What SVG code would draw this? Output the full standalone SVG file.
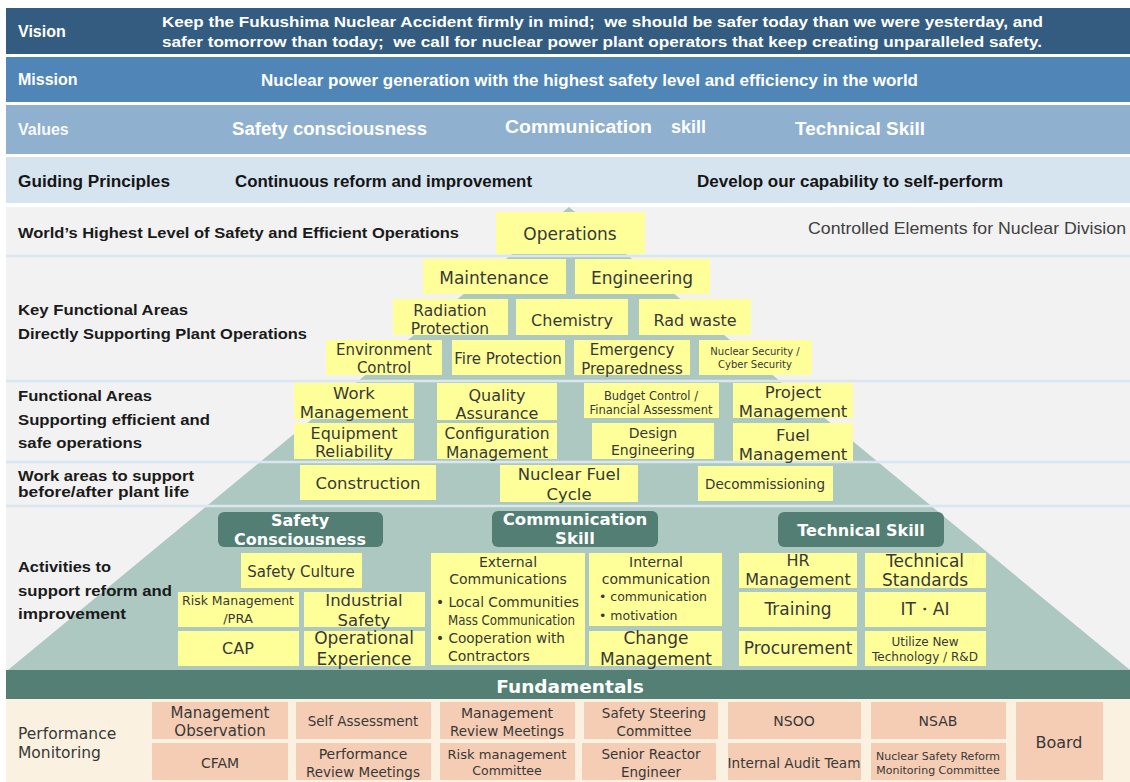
<svg xmlns="http://www.w3.org/2000/svg" width="1130" height="782" viewBox="0 0 1130 782">
<style>
.hw{font-family:"Liberation Sans",Arial,sans-serif;font-weight:bold;fill:#ffffff}
.hb{font-family:"Liberation Sans",Arial,sans-serif;font-weight:bold;fill:#151515}
.lbl{font-family:"Liberation Sans",Arial,sans-serif;font-weight:bold;fill:#1a1a1a;font-size:15px}
.y{fill:#ffff99}
.t{font-family:"DejaVu Sans",sans-serif;fill:#383838;text-anchor:middle}
.tl{font-family:"DejaVu Sans",sans-serif;fill:#383838}
.th{fill:#527e73}
.tw{font-family:"DejaVu Sans",sans-serif;font-weight:bold;fill:#ffffff;text-anchor:middle}
.s{fill:#f5cdb4}
.sep{stroke:#dbe6ef;stroke-width:2.5}
</style>
<rect x="0" y="0" width="1130" height="782" fill="#ffffff"/>
<!-- header rows -->
<g id="vision">
<rect x="6" y="8" width="1124" height="46" fill="#335c80"/>
<text class="hw" x="18" y="37" font-size="16">Vision</text>
<text class="hw" x="162" y="27" font-size="15.5" textLength="881" lengthAdjust="spacingAndGlyphs" xml:space="preserve">Keep the Fukushima Nuclear Accident firmly in mind;  we should be safer today than we were yesterday, and</text>
<text class="hw" x="162" y="47" font-size="15.5" textLength="880" lengthAdjust="spacingAndGlyphs" xml:space="preserve">safer tomorrow than today;  we call for nuclear power plant operators that keep creating unparalleled safety.</text>
</g>
<g id="mission">
<rect x="6" y="57" width="1124" height="45" fill="#4f86b7"/>
<text class="hw" x="18" y="85" font-size="16">Mission</text>
<text class="hw" x="261" y="86" font-size="16" textLength="657" lengthAdjust="spacingAndGlyphs">Nuclear power generation with the highest safety level and efficiency in the world</text>
</g>
<g id="values">
<rect x="6" y="105" width="1124" height="49" fill="#8fb1cf"/>
<text class="hw" x="18" y="135" font-size="16" fill-opacity="0.95">Values</text>
<text class="hw" x="232" y="135" font-size="17.5" textLength="195" lengthAdjust="spacingAndGlyphs">Safety consciousness</text>
<text class="hw" x="505" y="133" font-size="17.5" textLength="147" lengthAdjust="spacingAndGlyphs">Communication</text>
<text class="hw" x="671" y="133" font-size="17.5" textLength="35" lengthAdjust="spacingAndGlyphs">skill</text>
<text class="hw" x="795" y="135" font-size="17.5" textLength="130" lengthAdjust="spacingAndGlyphs">Technical Skill</text>
</g>
<g id="guiding">
<rect x="6" y="157" width="1124" height="46" fill="#d6e4ef"/>
<text class="hb" x="18" y="187" font-size="16" textLength="152" lengthAdjust="spacingAndGlyphs">Guiding Principles</text>
<text class="hb" x="235" y="187" font-size="16" textLength="297" lengthAdjust="spacingAndGlyphs">Continuous reform and improvement</text>
<text class="hb" x="697" y="187" font-size="16" textLength="306" lengthAdjust="spacingAndGlyphs">Develop our capability to self-perform</text>
</g>
<!-- main area -->
<rect x="6" y="207" width="1124" height="463" fill="#f2f2f2"/>
<polygon points="569,207 8,670 1130,670" fill="#adc8c1"/>
<g id="separators">
<line class="sep" x1="6" y1="256" x2="1130" y2="256"/>
<line class="sep" x1="6" y1="381" x2="1130" y2="381"/>
<line class="sep" x1="6" y1="462" x2="1130" y2="462"/>
<line class="sep" x1="6" y1="506" x2="1130" y2="506"/>
</g>
<g id="left-labels">
<text class="lbl" x="18" y="238" textLength="441" lengthAdjust="spacingAndGlyphs">World’s Highest Level of Safety and Efficient Operations</text>
<text class="lbl" x="18" y="315" textLength="170" lengthAdjust="spacingAndGlyphs">Key Functional Areas</text>
<text class="lbl" x="18" y="339" textLength="289" lengthAdjust="spacingAndGlyphs">Directly Supporting Plant Operations</text>
<text class="lbl" x="18" y="401" textLength="134" lengthAdjust="spacingAndGlyphs">Functional Areas</text>
<text class="lbl" x="18" y="425" textLength="192" lengthAdjust="spacingAndGlyphs">Supporting efficient and</text>
<text class="lbl" x="18" y="448" textLength="124" lengthAdjust="spacingAndGlyphs">safe operations</text>
<text class="lbl" x="18" y="481" textLength="176" lengthAdjust="spacingAndGlyphs">Work areas to support</text>
<text class="lbl" x="18" y="497" textLength="171" lengthAdjust="spacingAndGlyphs">before/after plant life</text>
<text class="lbl" x="18" y="572" textLength="93" lengthAdjust="spacingAndGlyphs">Activities to</text>
<text class="lbl" x="18" y="596" textLength="154" lengthAdjust="spacingAndGlyphs">support reform and</text>
<text class="lbl" x="18" y="619" textLength="108" lengthAdjust="spacingAndGlyphs">improvement</text>
</g>
<text id="controlled-title" x="808" y="234" font-family="'Liberation Sans',Arial,sans-serif" font-size="17" fill="#404040" textLength="318" lengthAdjust="spacingAndGlyphs">Controlled Elements for Nuclear Division</text>
<!-- pyramid boxes -->
<g id="operations"><rect class="y" x="496" y="212" width="149" height="42"/><text class="t" x="570" y="240" font-size="17">Operations</text></g>
<g id="maintenance"><rect class="y" x="423" y="259" width="143" height="35"/><text class="t" x="494" y="284" font-size="17">Maintenance</text></g>
<g id="engineering"><rect class="y" x="575" y="259" width="135" height="35"/><text class="t" x="642" y="284" font-size="17">Engineering</text></g>
<g id="radiation-protection"><rect class="y" x="393" y="299" width="115" height="36"/><text class="t" x="450" y="316" font-size="15.5">Radiation</text><text class="t" x="450" y="334" font-size="15.5">Protection</text></g>
<g id="chemistry"><rect class="y" x="516" y="299" width="112" height="36"/><text class="t" x="572" y="326" font-size="16">Chemistry</text></g>
<g id="rad-waste"><rect class="y" x="639" y="299" width="112" height="36"/><text class="t" x="695" y="326" font-size="16">Rad waste</text></g>
<g id="environment-control"><rect class="y" x="326" y="340" width="116" height="35"/><text class="t" x="384" y="355" font-size="15">Environment</text><text class="t" x="384" y="373" font-size="15">Control</text></g>
<g id="fire-protection"><rect class="y" x="452" y="340" width="113" height="35"/><text class="t" x="508" y="364" font-size="15">Fire Protection</text></g>
<g id="emergency-preparedness"><rect class="y" x="574" y="340" width="116" height="35"/><text class="t" x="632" y="355" font-size="15">Emergency</text><text class="t" x="632" y="374" font-size="15">Preparedness</text></g>
<g id="nuclear-security"><rect class="y" x="699" y="340" width="113" height="35"/><text class="t" x="755" y="355" font-size="10">Nuclear Security /</text><text class="t" x="755" y="368" font-size="10">Cyber Security</text></g>
<g id="work-management"><rect class="y" x="294" y="383" width="120" height="36"/><text class="t" x="354" y="399" font-size="16.5">Work</text><text class="t" x="354" y="418" font-size="16.5">Management</text></g>
<g id="quality-assurance"><rect class="y" x="437" y="383" width="120" height="37"/><text class="t" x="497" y="401" font-size="16">Quality</text><text class="t" x="497" y="419" font-size="16">Assurance</text></g>
<g id="budget-control"><rect class="y" x="584" y="383" width="135" height="35"/><text class="t" x="651" y="400" font-size="11.5">Budget Control /</text><text class="t" x="651" y="414" font-size="11.5">Financial Assessment</text></g>
<g id="project-management"><rect class="y" x="733" y="383" width="120" height="35"/><text class="t" x="793" y="398" font-size="16.5">Project</text><text class="t" x="793" y="417" font-size="16.5">Management</text></g>
<g id="equipment-reliability"><rect class="y" x="294" y="423" width="120" height="36"/><text class="t" x="354" y="439" font-size="16">Equipment</text><text class="t" x="354" y="457" font-size="16">Reliability</text></g>
<g id="configuration-management"><rect class="y" x="437" y="423" width="120" height="36"/><text class="t" x="497" y="438.5" font-size="15.5">Configuration</text><text class="t" x="497" y="457.5" font-size="15.5">Management</text></g>
<g id="design-engineering"><rect class="y" x="592" y="423" width="122" height="36"/><text class="t" x="653" y="438" font-size="14">Design</text><text class="t" x="653" y="455" font-size="14">Engineering</text></g>
<g id="fuel-management"><rect class="y" x="733" y="423" width="120" height="38"/><text class="t" x="793" y="441" font-size="16.5">Fuel</text><text class="t" x="793" y="460" font-size="16.5">Management</text></g>
<g id="construction"><rect class="y" x="300" y="465" width="136" height="35"/><text class="t" x="368" y="489" font-size="16.5">Construction</text></g>
<g id="nuclear-fuel-cycle"><rect class="y" x="500" y="465" width="138" height="37"/><text class="t" x="569" y="480" font-size="16.5">Nuclear Fuel</text><text class="t" x="569" y="500" font-size="16.5">Cycle</text></g>
<g id="decommissioning"><rect class="y" x="698" y="466" width="135" height="35"/><text class="t" x="765" y="489" font-size="14.5" textLength="120" lengthAdjust="spacingAndGlyphs">Decommissioning</text></g>
<!-- activities -->
<g id="safety-consciousness"><rect class="th" x="218" y="512" width="165" height="35" rx="6"/><text class="tw" x="300" y="526" font-size="16">Safety</text><text class="tw" x="300" y="545" font-size="16">Consciousness</text></g>
<g id="communication-skill"><rect class="th" x="492" y="511" width="166" height="36" rx="6"/><text class="tw" x="575" y="525" font-size="16.5">Communication</text><text class="tw" x="575" y="544" font-size="16.5">Skill</text></g>
<g id="technical-skill"><rect class="th" x="778" y="512" width="166" height="35" rx="6"/><text class="tw" x="861" y="536" font-size="16">Technical Skill</text></g>
<g id="safety-culture"><rect class="y" x="241" y="553" width="121" height="35"/><text class="t" x="301" y="577" font-size="15">Safety Culture</text></g>
<g id="risk-management"><rect class="y" x="178" y="592" width="121" height="35"/><text class="t" x="238" y="604.5" font-size="12.5" textLength="112" lengthAdjust="spacingAndGlyphs">Risk Management</text><text class="t" x="238" y="622.5" font-size="13">/PRA</text></g>
<g id="industrial-safety"><rect class="y" x="304" y="592" width="121" height="35"/><text class="t" x="364" y="606" font-size="16.5">Industrial</text><text class="t" x="364" y="626" font-size="16.5">Safety</text></g>
<g id="cap"><rect class="y" x="178" y="631" width="121" height="35"/><text class="t" x="238" y="654" font-size="16">CAP</text></g>
<g id="operational-experience"><rect class="y" x="304" y="631" width="121" height="35"/><text class="t" x="364" y="644" font-size="17">Operational</text><text class="t" x="364" y="665" font-size="17">Experience</text></g>
<g id="external-communications"><rect class="y" x="431" y="553" width="154" height="112"/>
<text class="t" x="508" y="567" font-size="14">External</text>
<text class="t" x="508" y="584" font-size="14">Communications</text>
<text class="tl" x="436" y="607" font-size="14" textLength="143" lengthAdjust="spacingAndGlyphs">• Local Communities</text>
<text class="tl" x="448" y="625" font-size="13.5" textLength="127" lengthAdjust="spacingAndGlyphs">Mass Communication</text>
<text class="tl" x="436" y="643" font-size="14" textLength="129" lengthAdjust="spacingAndGlyphs">• Cooperation with</text>
<text class="tl" x="448" y="661" font-size="14">Contractors</text></g>
<g id="internal-communication"><rect class="y" x="589" y="553" width="133" height="73"/>
<text class="t" x="656" y="567" font-size="14">Internal</text>
<text class="t" x="656" y="584" font-size="14">communication</text>
<text class="tl" x="599" y="601" font-size="12.5">• communication</text>
<text class="tl" x="599" y="620" font-size="12.5">• motivation</text></g>
<g id="change-management"><rect class="y" x="589" y="631" width="133" height="35"/><text class="t" x="656" y="644" font-size="17">Change</text><text class="t" x="656" y="665" font-size="17">Management</text></g>
<g id="hr-management"><rect class="y" x="739" y="553" width="118" height="35"/><text class="t" x="798" y="566" font-size="16">HR</text><text class="t" x="798" y="585" font-size="16">Management</text></g>
<g id="technical-standards"><rect class="y" x="865" y="553" width="121" height="35"/><text class="t" x="925" y="567" font-size="17">Technical</text><text class="t" x="925" y="586" font-size="17">Standards</text></g>
<g id="training"><rect class="y" x="739" y="592" width="118" height="35"/><text class="t" x="798" y="615" font-size="17">Training</text></g>
<g id="it-ai"><rect class="y" x="865" y="592" width="121" height="35"/><text class="t" x="925" y="615" font-size="17" font-family="'DejaVu Sans','Noto Sans CJK JP',sans-serif">IT・AI</text></g>
<g id="procurement"><rect class="y" x="739" y="631" width="118" height="35"/><text class="t" x="798" y="654" font-size="17">Procurement</text></g>
<g id="utilize-new-technology"><rect class="y" x="865" y="631" width="121" height="35"/><text class="t" x="925" y="646" font-size="12">Utilize New</text><text class="t" x="925" y="661" font-size="12">Technology / R&amp;D</text></g>
<!-- fundamentals -->
<g id="fundamentals">
<rect x="6" y="670" width="1124" height="29" fill="#547f75"/>
<text class="tw" x="570" y="693" font-size="18.5">Fundamentals</text>
</g>
<rect x="6" y="699" width="1124" height="83" fill="#fbf1e1"/>
<g id="performance-monitoring"><text class="tl" x="18" y="739" font-size="15.5">Performance</text><text class="tl" x="18" y="758" font-size="15.5">Monitoring</text></g>
<g id="management-observation"><rect class="s" x="152" y="702" width="136" height="37"/><text class="t" x="220" y="718" font-size="15">Management</text><text class="t" x="220" y="736" font-size="15">Observation</text></g>
<g id="cfam"><rect class="s" x="152" y="743" width="136" height="37"/><text class="t" x="220" y="768" font-size="14">CFAM</text></g>
<g id="self-assessment"><rect class="s" x="296" y="702" width="135" height="37"/><text class="t" x="363" y="726" font-size="13.5">Self Assessment</text></g>
<g id="performance-review"><rect class="s" x="296" y="743" width="135" height="37"/><text class="t" x="363" y="759" font-size="14">Performance</text><text class="t" x="363" y="777" font-size="13.5">Review Meetings</text></g>
<g id="management-review"><rect class="s" x="440" y="702" width="135" height="37"/><text class="t" x="507" y="718" font-size="14">Management</text><text class="t" x="507" y="736" font-size="13.5">Review Meetings</text></g>
<g id="risk-management-committee"><rect class="s" x="440" y="743" width="135" height="37"/><text class="t" x="507" y="759" font-size="12.5" textLength="119" lengthAdjust="spacingAndGlyphs">Risk management</text><text class="t" x="507" y="775" font-size="12.5">Committee</text></g>
<g id="safety-steering"><rect class="s" x="584" y="702" width="134" height="37"/><text class="t" x="654" y="718" font-size="13.5">Safety Steering</text><text class="t" x="654" y="736" font-size="13.5">Committee</text></g>
<g id="senior-reactor"><rect class="s" x="582" y="743" width="134" height="37"/><text class="t" x="651" y="759" font-size="13.5">Senior Reactor</text><text class="t" x="651" y="777" font-size="13.5">Engineer</text></g>
<g id="nsoo"><rect class="s" x="728" y="702" width="133" height="37"/><text class="t" x="794" y="726" font-size="14">NSOO</text></g>
<g id="internal-audit"><rect class="s" x="728" y="743" width="133" height="37"/><text class="t" x="794" y="768" font-size="13.5" textLength="133" lengthAdjust="spacingAndGlyphs">Internal Audit Team</text></g>
<g id="nsab"><rect class="s" x="871" y="702" width="135" height="37"/><text class="t" x="938" y="726" font-size="14">NSAB</text></g>
<g id="nsr-monitoring"><rect class="s" x="871" y="743" width="135" height="37"/><text class="t" x="938" y="760" font-size="11">Nuclear Safety Reform</text><text class="t" x="938" y="774" font-size="11">Monitoring Committee</text></g>
<g id="board"><rect class="s" x="1016" y="702" width="87" height="78"/><text class="t" x="1059" y="748" font-size="16">Board</text></g>
<g id="connectors"></g>
</svg>
